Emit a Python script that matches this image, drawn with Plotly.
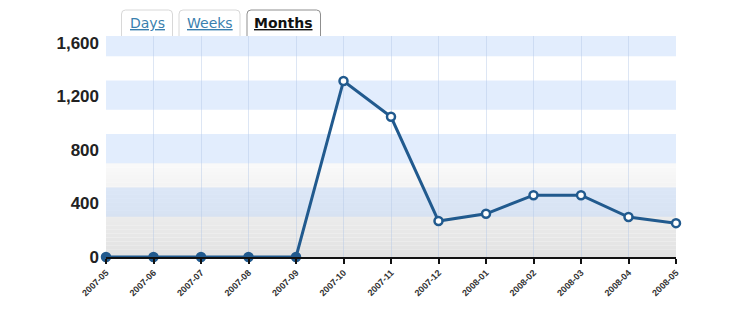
import plotly.graph_objects as go

months = ["2007-05", "2007-06", "2007-07", "2007-08", "2007-09", "2007-10", "2007-11",
          "2007-12", "2008-01", "2008-02", "2008-03", "2008-04", "2008-05"]
visits = [0, 0, 0, 0, 0, 1316, 1048, 269, 323, 462, 462, 299, 253]
y_ticks = [0, 400, 800, 1200, 1600]
tabs = ["Days", "Weeks", "Months"]
active_tab = "Months"

LINE = "#215a8e"
W, H = 744, 312
L, R, T, B = 106, 676, 36, 257


def xp(px):
    return (px - L) / (R - L)


def yp(py):
    return (B - py) / (B - T)


fig = go.Figure()
fig.add_trace(go.Scatter(
    x=months, y=visits, mode="lines+markers",
    line=dict(color=LINE, width=3),
    marker=dict(symbol="circle", size=8,
                color=[LINE if v == 0 else "white" for v in visits],
                line=dict(color=LINE, width=2.5)),
    cliponaxis=False, hoverinfo="x+y", showlegend=False,
))

shapes = []
steps = 24
top_val = 700
for i in range(steps):
    v0 = top_val * i / steps
    v1 = top_val * (i + 1) / steps
    c = int(226 + (250 - 226) * (i + 0.5) / steps)
    shapes.append(dict(type="rect", xref="paper", yref="y", x0=0, x1=1, y0=v0, y1=v1,
                       fillcolor=f"rgb({c},{c},{c})", line=dict(width=0), layer="below"))
for t in y_ticks[1:]:
    lo = t - 100
    hi = t + 120
    shapes.append(dict(type="rect", xref="paper", yref="y", x0=0, x1=1, y0=lo, y1=min(hi, 1652),
                       fillcolor="rgba(190,215,250,0.45)", line=dict(width=0), layer="below"))

tab_boxes = [(121.5, 172.5), (179, 240), (247, 320.5)]
annotations = []
for name, (a, b) in zip(tabs, tab_boxes):
    active = name == active_tab
    x0, x1 = xp(a), xp(b)
    y0, y1 = yp(36), yp(10)
    rx = 4 / (R - L)
    ry = 4 / (B - T)
    path = (f"M{x0},{y0} L{x0},{y1 - ry} Q{x0},{y1} {x0 + rx},{y1} "
            f"L{x1 - rx},{y1} Q{x1},{y1} {x1},{y1 - ry} L{x1},{y0}")
    shapes.append(dict(type="path", xref="paper", yref="paper", path=path,
                       fillcolor="white",
                       line=dict(color="#8f8f8f" if active else "#d8d8d8", width=1),
                       layer="above"))
    txt = f"<b><u>{name}</u></b>" if active else f"<u>{name}</u>"
    annotations.append(dict(xref="paper", yref="paper", x=(x0 + x1) / 2, y=yp(23),
                            text=txt, showarrow=False, xanchor="center", yanchor="middle",
                            font=dict(family="DejaVu Sans", size=14,
                                      color="#111111" if active else "#3a7fae")))

fig.update_layout(
    width=W, height=H,
    margin=dict(l=L, r=W - R, t=T, b=H - B, pad=0),
    paper_bgcolor="white", plot_bgcolor="white",
    shapes=shapes, annotations=annotations,
    xaxis=dict(type="category", range=[0, len(months) - 1],
               showgrid=True, gridcolor="rgba(180,200,230,0.45)", gridwidth=1,
               showline=True, linecolor="#111111", linewidth=2,
               ticks="outside", ticklen=5, tickwidth=2, tickcolor="#111111",
               tickangle=-45,
               tickfont=dict(family="Liberation Sans", size=9, color="#333333"),
               tickprefix="<b>", ticksuffix="</b>",
               zeroline=False, fixedrange=True),
    yaxis=dict(range=[0, 1652], tickvals=y_ticks,
               ticktext=[f"<b>{v:,}</b>" for v in y_ticks],
               showgrid=False, zeroline=False, showline=False, ticks="",
               ticklabelstandoff=6,
               tickfont=dict(family="Liberation Sans", size=17, color="#222222"),
               fixedrange=True),
)

fig.write_html("out.html")
